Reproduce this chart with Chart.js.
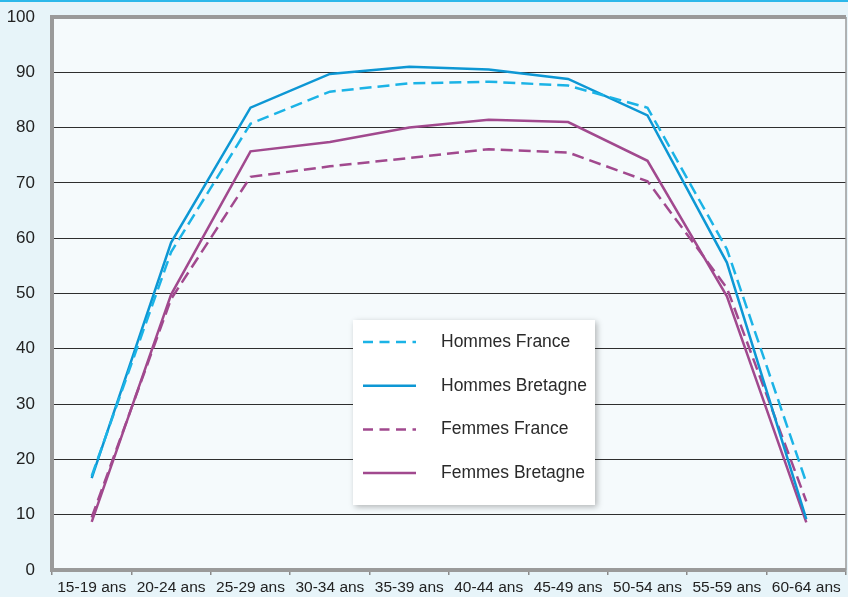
<!DOCTYPE html>
<html>
<head>
<meta charset="utf-8">
<script src="https://cdn.jsdelivr.net/npm/chart.js@4.4.1/dist/chart.umd.min.js"></script>
<style>
  html, body { margin: 0; padding: 0; background: #e7f4f9; }
  #wrap { width: 848px; height: 597px; }
</style>
</head>
<body>
<div id="wrap"><canvas id="myChart" width="848" height="597"></canvas></div>
<script>
// tranches d'age
var categories = ['15-19 ans', '20-24 ans', '25-29 ans', '30-34 ans', '35-39 ans',
                  '40-44 ans', '45-49 ans', '50-54 ans', '55-59 ans', '60-64 ans'];

// taux d'activite (%)
var hommesFrance   = [17.0, 57.5, 80.7, 86.5, 88.0, 88.3, 87.6, 83.6, 58.0, 15.8];
var hommesBretagne = [16.6, 59.2, 83.6, 89.7, 91.0, 90.5, 88.8, 82.2, 55.6, 9.2];
var femmesFrance   = [9.5, 49.0, 71.1, 73.0, 74.5, 76.1, 75.5, 70.3, 51.0, 12.4];
var femmesBretagne = [8.7, 49.8, 75.7, 77.4, 80.0, 81.4, 81.0, 74.0, 49.5, 8.6];

var yTicks = [0, 10, 20, 30, 40, 50, 60, 70, 80, 90, 100];

var BLEU = '#0d97d4';
var BLEU_CLAIR = '#1bb3e6';
var VIOLET = '#a1498e';

// fond, cadre et legende dessines a la main
var decorPlugin = {
    id: 'decor',
    beforeDraw: function(chart) {
        var c = chart.ctx, a = chart.chartArea;
        c.save();
        c.fillStyle = '#e7f4f9';
        c.fillRect(0, 0, chart.width, chart.height);
        c.fillStyle = '#2cb8ea';
        c.fillRect(0, 0, chart.width, 2);
        c.fillStyle = '#f5fafc';
        c.fillRect(a.left, a.top, a.right - a.left, a.bottom - a.top);
        c.restore();
    },
    beforeDatasetsDraw: function(chart) {
        var c = chart.ctx, a = chart.chartArea;
        c.save();
        c.strokeStyle = '#9a9a9a';
        c.lineWidth = 4;
        c.beginPath();
        c.moveTo(a.right, a.top);
        c.lineTo(a.left, a.top);
        c.lineTo(a.left, a.bottom);
        c.lineTo(a.right, a.bottom);
        c.stroke();
        c.lineWidth = 1.5;
        c.beginPath();
        c.moveTo(a.right, a.top);
        c.lineTo(a.right, a.bottom);
        c.stroke();
        c.restore();
    },
    afterDraw: function(chart) {
        var c = chart.ctx;
        var bx = 353, by = 320, bw = 242, bh = 185;
        c.save();
        c.shadowColor = 'rgba(0,0,0,0.28)';
        c.shadowBlur = 6;
        c.shadowOffsetX = 2;
        c.shadowOffsetY = 2;
        c.fillStyle = '#ffffff';
        c.fillRect(bx, by, bw, bh);
        c.restore();

        c.save();
        c.font = '17.5px "Liberation Sans", Arial, sans-serif';
        c.textBaseline = 'middle';
        chart.data.datasets.forEach(function(ds, i) {
            var y = 342 + i * 43.7;
            c.strokeStyle = ds.borderColor;
            c.lineWidth = ds.borderWidth;
            c.setLineDash(ds.borderDash ? [10, 6.5] : []);
            c.beginPath();
            c.moveTo(363, y);
            c.lineTo(416, y);
            c.stroke();
            c.setLineDash([]);
            c.fillStyle = '#2a2a2a';
            c.fillText(ds.label, 441, y);
        });
        c.restore();
    }
};

var ctx = document.getElementById('myChart').getContext('2d');

var myChart = new Chart(ctx, {
    type: 'line',
    data: {
        labels: categories,
        datasets: [{
            label: 'Hommes France',
            data: hommesFrance,
            borderColor: BLEU_CLAIR,
            borderDash: [12, 6],
            borderWidth: 2.5
        }, {
            label: 'Hommes Bretagne',
            data: hommesBretagne,
            borderColor: BLEU,
            borderWidth: 2.5
        }, {
            label: 'Femmes France',
            data: femmesFrance,
            borderColor: VIOLET,
            borderDash: [12, 6],
            borderWidth: 2.5
        }, {
            label: 'Femmes Bretagne',
            data: femmesBretagne,
            borderColor: VIOLET,
            borderWidth: 2.5
        }]
    },
    options: {
        responsive: false,
        animation: false,
        layout: { padding: { top: 17, right: 2, left: 0, bottom: 0 } },
        elements: {
            point: { radius: 0 },
            line: { tension: 0, fill: false }
        },
        plugins: {
            legend: { display: false },
            title: { display: false },
            tooltip: { enabled: false }
        },
        scales: {
            x: {
                offset: true,
                afterFit: function(scale) {
                    scale.height = 27;
                    scale.paddingLeft = 0;
                    scale.paddingRight = 0;
                },
                border: { display: false },
                grid: {
                    offset: true,
                    drawOnChartArea: false,
                    tickLength: 5,
                    color: '#8a8a8a',
                    lineWidth: 1.5
                },
                ticks: {
                    color: '#222',
                    font: { family: '"Liberation Sans", Arial, sans-serif', size: 15.5 },
                    padding: 3,
                    maxRotation: 0,
                    autoSkip: false
                }
            },
            y: {
                min: 0,
                max: 100,
                afterFit: function(scale) {
                    scale.width = 52;
                    scale.paddingTop = 0;
                    scale.paddingBottom = 0;
                },
                afterBuildTicks: function(scale) {
                    scale.ticks = yTicks.map(function(v) { return { value: v }; });
                },
                border: { display: false },
                grid: {
                    color: '#2e2e2e',
                    lineWidth: 1,
                    drawTicks: false
                },
                ticks: {
                    color: '#222',
                    font: { family: '"Liberation Sans", Arial, sans-serif', size: 17 },
                    padding: 17
                }
            }
        }
    },
    plugins: [decorPlugin]
});
</script>
</body>
</html>
